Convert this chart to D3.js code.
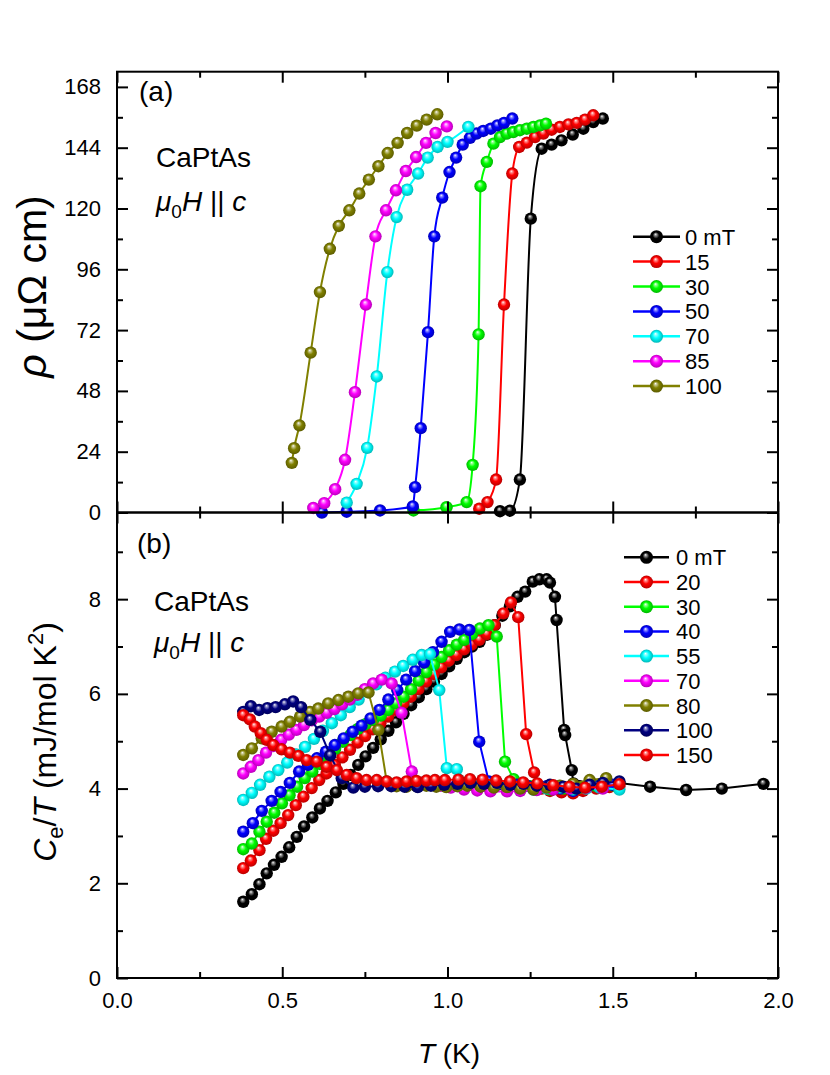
<!DOCTYPE html>
<html><head><meta charset="utf-8">
<script src="https://cdn.jsdelivr.net/npm/d3@7"></script>
<style>
body{margin:0;background:#fff}
svg{display:block}
text{font-family:"Liberation Sans",Arial,sans-serif;fill:#000}
</style>
</head><body>
<svg id="c" width="830" height="1075"></svg>
<script>
// ---------- DATA ----------
// Panel (a): resistivity rho (µΩ cm) vs T (K)
const resFields = ["0 mT","15","30","50","70","85","100"];
const resColors = ["#000000","#ff0000","#00ff00","#0000ff","#00ffff","#ff00ff","#808000"];
const resT_0   = [1.159,1.189,1.219,1.252,1.285,1.315,1.345,1.379,1.411,1.441,1.470];
const resV_0   = [0.5,0.7,13.0,116.0,143.6,145.2,146.9,149.2,151.5,154.1,155.5];
const resT_15  = [1.096,1.121,1.147,1.171,1.196,1.217,1.240,1.265,1.290,1.315,1.340,1.366,1.391,1.416,1.441];
const resV_15  = [1.5,4.1,13.0,82.1,133.8,144.3,146.0,148.2,149.6,151.1,152.2,153.2,153.8,155.1,156.8];
const resT_30  = [0.897,0.997,1.058,1.076,1.094,1.100,1.119,1.139,1.159,1.179,1.199,1.219,1.240,1.260,1.280,1.298];
const resV_30  = [0.8,2.1,4.1,18.8,70.3,128.8,138.4,145.6,148.2,149.6,150.2,150.9,151.5,152.2,152.8,153.5];
const resT_50  = [0.62,0.695,0.796,0.895,0.902,0.919,0.941,0.960,0.984,1.006,1.026,1.046,1.068,1.088,1.108,1.131,1.151,1.171,1.196];
const resV_50  = [0.0,0.3,0.8,2.4,10.0,33.3,71.2,109.0,124.3,134.4,140.1,145.2,147.9,149.6,150.6,151.5,152.8,153.8,155.5];
const resT_70  = [0.695,0.725,0.757,0.786,0.818,0.846,0.878,0.911,0.940,0.970,1.000,1.063];
const resV_70  = [3.9,11.3,25.5,53.7,94.9,116.6,127.4,133.8,140.1,144.3,146.3,152.2];
const resT_85  = [0.594,0.627,0.660,0.690,0.720,0.753,0.782,0.814,0.844,0.874,0.905,0.935,0.964,0.998];
const resV_85  = [1.8,3.7,9.2,20.8,47.5,82.1,109.0,119.3,127.2,134.8,140.3,145.9,149.8,152.4];
const resT_100 = [0.529,0.536,0.552,0.586,0.614,0.644,0.671,0.703,0.733,0.762,0.791,0.819,0.849,0.878,0.907,0.937,0.969];
const resV_100 = [19.6,25.4,34.4,63.1,87.0,104.1,113.1,119.3,125.9,131.4,136.7,141.9,145.9,149.8,152.7,155.1,157.2];

// Panel (b): electronic specific heat Ce/T (mJ/mol K^2) vs T (K)
const heatFields = ["0 mT","20","30","40","55","70","80","100","150"];
const heatColors = ["#000000","#ff0000","#00ff00","#0000ff","#00ffff","#ff00ff","#808000","#000080","#ff0000"];
const heatT_0   = [0.382,0.408,0.431,0.453,0.475,0.498,0.521,0.544,0.566,0.591,0.614,0.637,0.662,0.685,0.707,0.730,0.752,0.775,0.798,0.821,0.844,0.867,0.890,0.913,0.936,0.959,0.982,1.005,1.028,1.051,1.074,1.097,1.120,1.143,1.166,1.189,1.212,1.235,1.258,1.278,1.300,1.310,1.325,1.330,1.353,1.356,1.376,1.381,1.40,1.44,1.48,1.52,1.613,1.722,1.830,1.956];
const heatC_0   = [1.61,1.77,1.98,2.21,2.39,2.56,2.76,2.98,3.20,3.39,3.58,3.74,3.92,4.10,4.29,4.50,4.68,4.86,5.04,5.22,5.40,5.58,5.76,5.93,6.10,6.26,6.42,6.58,6.74,6.88,7.00,7.10,7.25,7.45,7.65,7.85,8.05,8.16,8.37,8.42,8.42,8.35,8.05,7.56,5.24,5.13,4.39,4.11,4.05,4.07,4.10,4.12,4.04,3.97,4.00,4.10];
const heatT_20  = [0.382,0.405,0.431,0.451,0.473,0.495,0.518,0.541,0.564,0.589,0.612,0.634,0.659,0.682,0.705,0.728,0.751,0.774,0.797,0.820,0.843,0.866,0.889,0.912,0.935,0.958,0.981,1.004,1.027,1.050,1.073,1.096,1.119,1.142,1.169,1.192,1.214,1.238,1.262,1.285,1.31,1.345,1.38,1.41,1.45,1.49,1.52];
const heatC_20  = [2.32,2.48,2.70,2.94,3.11,3.27,3.44,3.65,3.83,4.01,4.18,4.32,4.50,4.66,4.82,4.97,5.11,5.25,5.38,5.52,5.66,5.80,5.94,6.10,6.26,6.42,6.56,6.70,6.82,6.94,7.04,7.14,7.26,7.45,7.70,7.93,7.62,5.15,4.34,4.00,3.95,3.92,3.90,3.95,4.00,4.03,4.05];
const heatT_30  = [0.382,0.408,0.431,0.453,0.476,0.499,0.522,0.545,0.568,0.591,0.614,0.637,0.660,0.683,0.706,0.729,0.752,0.775,0.798,0.821,0.844,0.867,0.890,0.913,0.936,0.959,0.982,1.005,1.028,1.051,1.074,1.098,1.124,1.149,1.174,1.20,1.225,1.25,1.28,1.31,1.35,1.40,1.45,1.50];
const heatC_30  = [2.72,2.84,3.09,3.30,3.49,3.69,3.86,4.04,4.22,4.36,4.52,4.68,4.84,4.99,5.13,5.26,5.36,5.45,5.54,5.66,5.80,5.94,6.10,6.28,6.46,6.62,6.78,6.92,7.04,7.14,7.26,7.38,7.45,7.21,4.57,4.20,4.08,4.05,4.02,3.98,4.00,4.02,4.05,4.07];
const heatT_40  = [0.382,0.411,0.438,0.468,0.495,0.523,0.551,0.578,0.605,0.632,0.659,0.686,0.713,0.740,0.767,0.794,0.821,0.848,0.875,0.902,0.929,0.956,0.982,1.008,1.036,1.066,1.096,1.125,1.15,1.18,1.21,1.24,1.27,1.30,1.34,1.38,1.42,1.46,1.50];
const heatC_40  = [3.09,3.27,3.53,3.74,3.93,4.12,4.36,4.50,4.64,4.78,4.92,5.06,5.20,5.33,5.48,5.66,5.88,6.08,6.30,6.48,6.66,6.88,7.10,7.31,7.36,7.35,4.99,4.15,4.08,4.05,4.08,4.06,4.03,4.05,4.00,3.95,4.02,4.06,4.08];
const heatT_55  = [0.382,0.408,0.433,0.461,0.488,0.515,0.542,0.569,0.596,0.623,0.650,0.677,0.704,0.731,0.758,0.785,0.812,0.841,0.866,0.895,0.922,0.947,0.975,0.998,1.028,1.06,1.10,1.14,1.18,1.22,1.26,1.30,1.34,1.38,1.42,1.46,1.52];
const heatC_55  = [3.76,3.91,4.08,4.25,4.39,4.55,4.72,4.88,5.05,5.22,5.38,5.55,5.72,5.88,6.04,6.20,6.34,6.47,6.59,6.72,6.82,6.84,6.08,4.43,4.41,4.12,4.10,4.08,4.06,4.02,3.98,4.00,4.02,3.98,4.00,4.02,3.98];
const heatT_70  = [0.382,0.405,0.428,0.451,0.474,0.497,0.520,0.543,0.566,0.589,0.612,0.635,0.658,0.681,0.704,0.727,0.750,0.775,0.801,0.831,0.861,0.892,0.92,0.95,0.98,1.01,1.05,1.09,1.13,1.18,1.22,1.27,1.32,1.37,1.42,1.47];
const heatC_70  = [4.32,4.46,4.60,4.76,4.90,5.03,5.14,5.24,5.34,5.44,5.52,5.60,5.68,5.78,5.88,5.98,6.10,6.22,6.30,6.22,5.60,4.36,4.12,4.10,4.06,4.02,3.98,3.96,3.94,3.94,3.95,3.97,3.98,4.00,4.02,4.00];
const heatT_80  = [0.382,0.408,0.438,0.468,0.498,0.523,0.554,0.584,0.609,0.639,0.670,0.700,0.730,0.761,0.791,0.816,0.846,0.876,0.906,0.936,0.966,0.996,1.03,1.06,1.10,1.14,1.18,1.22,1.26,1.30,1.34,1.38,1.43,1.48];
const heatC_80  = [4.71,4.85,5.06,5.20,5.31,5.41,5.52,5.62,5.69,5.80,5.87,5.94,6.01,6.03,5.24,4.15,4.05,4.04,4.05,4.06,4.04,4.03,4.05,4.06,4.04,4.02,4.03,4.00,3.98,4.02,4.06,4.10,4.18,4.22];
const heatT_100 = [0.382,0.405,0.430,0.455,0.480,0.508,0.533,0.557,0.585,0.615,0.645,0.68,0.715,0.75,0.79,0.83,0.87,0.91,0.95,0.99,1.03,1.07,1.11,1.15,1.19,1.23,1.27,1.31,1.35,1.39,1.43,1.47,1.52];
const heatC_100 = [5.62,5.74,5.66,5.70,5.72,5.78,5.84,5.72,5.45,5.20,4.70,4.22,4.02,4.04,4.05,4.05,4.04,4.03,4.06,4.08,4.10,4.12,4.10,4.12,4.08,4.10,4.06,4.08,4.04,4.00,4.08,4.12,4.15];
const heatT_150 = [0.382,0.402,0.417,0.435,0.453,0.473,0.498,0.523,0.549,0.574,0.604,0.634,0.665,0.695,0.725,0.755,0.786,0.816,0.846,0.876,0.906,0.936,0.962,0.992,1.033,1.068,1.106,1.147,1.189,1.229,1.272,1.320,1.369,1.416,1.467,1.520];
const heatC_150 = [5.55,5.46,5.31,5.17,5.03,4.92,4.83,4.76,4.69,4.60,4.57,4.46,4.39,4.29,4.22,4.18,4.18,4.15,4.13,4.15,4.16,4.17,4.18,4.18,4.19,4.20,4.19,4.17,4.15,4.13,4.11,4.07,4.04,4.02,4.04,4.09];

// Axis ticks
const xTicks = [0,0.5,1.0,1.5,2.0];
const xTickLabels = ["0.0","0.5","1.0","1.5","2.0"];
const xMinor = [0.25,0.75,1.25,1.75];
const rhoTicks = [0,24,48,72,96,120,144,168];
const rhoMinor = [12,36,60,84,108,132,156];
const cTicks = [0,2,4,6,8];
const cMinor = [1,3,5,7,9];

// ---------- LAYOUT ----------
const X0=117, X1=778, AT=71.7, AB=512.5, BT=512.5, BB=978;
const svg = d3.select("#c");
const x  = d3.scaleLinear().domain([0,2]).range([X0,X1]);
const yA = d3.scaleLinear().domain([0,174]).range([AB,AT]);
const yB = d3.scaleLinear().domain([0,9.83]).range([BB,BT]);

const resSeries = [
  [resT_0,resV_0],[resT_15,resV_15],[resT_30,resV_30],[resT_50,resV_50],
  [resT_70,resV_70],[resT_85,resV_85],[resT_100,resV_100]
].map((s,i)=>({name:resFields[i],color:resColors[i],pts:s[0].map((t,j)=>[t,s[1][j]])}));
const heatSeries = [
  [heatT_0,heatC_0],[heatT_20,heatC_20],[heatT_30,heatC_30],[heatT_40,heatC_40],[heatT_55,heatC_55],
  [heatT_70,heatC_70],[heatT_80,heatC_80],[heatT_100,heatC_100],[heatT_150,heatC_150]
].map((s,i)=>({name:heatFields[i],color:heatColors[i],pts:s[0].map((t,j)=>[t,s[1][j]])}));

// gradients for ball markers
const defs = svg.append("defs");
const gradIds = {};
function gradFor(color){
  if(gradIds[color]) return gradIds[color];
  const id = "g"+color.replace("#","");
  const g = defs.append("radialGradient").attr("id",id)
    .attr("cx","50%").attr("cy","50%").attr("r","50%").attr("fx","42%").attr("fy","30%");
  const light = d3.interpolateRgb(color,"#ffffff")(0.6);
  const dark = d3.rgb(color).darker(0.9).formatHex();
  g.append("stop").attr("offset","0%").attr("stop-color","#ffffff");
  g.append("stop").attr("offset","16%").attr("stop-color",light);
  g.append("stop").attr("offset","50%").attr("stop-color",color);
  g.append("stop").attr("offset","100%").attr("stop-color",dark);
  gradIds[color] = "url(#"+id+")";
  return gradIds[color];
}

// ---------- AXES ----------
function frameAxes(yScale, yMajor, yMinor, top, bottom, showX){
  const g = svg.append("g");
  const TL=11, TS=6;
  g.append("g").attr("transform",`translate(0,${bottom})`)
    .call(d3.axisBottom(x).tickValues(xTicks).tickSize(-TL).tickPadding(14)
      .tickFormat((d,i)=> showX ? xTickLabels[i] : ""));
  g.append("g").attr("transform",`translate(0,${bottom})`)
    .call(d3.axisBottom(x).tickValues(xMinor).tickSize(-TS).tickFormat(""));
  g.append("g").attr("transform",`translate(0,${top})`)
    .call(d3.axisTop(x).tickValues(xTicks).tickSize(-TL).tickFormat(""));
  g.append("g").attr("transform",`translate(0,${top})`)
    .call(d3.axisTop(x).tickValues(xMinor).tickSize(-TS).tickFormat(""));
  g.append("g").attr("transform",`translate(${X0},0)`)
    .call(d3.axisLeft(yScale).tickValues(yMajor).tickSize(-TL).tickPadding(16).tickFormat(d3.format("d")));
  g.append("g").attr("transform",`translate(${X0},0)`)
    .call(d3.axisLeft(yScale).tickValues(yMinor).tickSize(-TS).tickFormat(""));
  g.append("g").attr("transform",`translate(${X1},0)`)
    .call(d3.axisRight(yScale).tickValues(yMajor).tickSize(-TL).tickFormat(""));
  g.append("g").attr("transform",`translate(${X1},0)`)
    .call(d3.axisRight(yScale).tickValues(yMinor).tickSize(-TS).tickFormat(""));
  g.selectAll(".domain").remove();
  g.selectAll(".tick line").attr("stroke","#000").attr("stroke-width",2);
  g.selectAll(".tick text").attr("font-size",22).attr("fill","#000")
    .attr("font-family",'"Liberation Sans",Arial,sans-serif');
  svg.append("rect").attr("x",X0).attr("y",top).attr("width",X1-X0).attr("height",bottom-top)
    .attr("fill","none").attr("stroke","#000").attr("stroke-width",2);
}

// ---------- SERIES ----------
function drawSeries(series, yScale, curve, r){
  const g = svg.append("g");
  series.forEach(s=>{
    const line = d3.line().x(d=>x(d[0])).y(d=>yScale(d[1])).curve(curve);
    const sg = g.append("g");
    sg.append("path").attr("d",line(s.pts)).attr("fill","none")
      .attr("stroke",s.color).attr("stroke-width",2);
    sg.selectAll("circle").data(s.pts).join("circle")
      .attr("cx",d=>x(d[0])).attr("cy",d=>yScale(d[1])).attr("r",r)
      .attr("fill",gradFor(s.color));
  });
}

function legend(series, lx1, lx2, tx, y0, dy){
  const g = svg.append("g");
  series.forEach((s,i)=>{
    const yy = y0 + i*dy;
    g.append("line").attr("x1",lx1).attr("x2",lx2).attr("y1",yy).attr("y2",yy)
      .attr("stroke",s.color).attr("stroke-width",2.5);
    g.append("circle").attr("cx",(lx1+lx2)/2).attr("cy",yy).attr("r",6.5).attr("fill",gradFor(s.color));
    g.append("text").attr("x",tx).attr("y",yy+8).attr("font-size",22).text(s.name);
  });
}

function annot(x0, yTitle, yField, label, yLabel){
  svg.append("text").attr("x",x0-17).attr("y",yLabel).attr("font-size",28).text(label);
  svg.append("text").attr("x",x0).attr("y",yTitle).attr("font-size",28).text("CaPtAs");
  const t = svg.append("text").attr("x",x0).attr("y",yField).attr("font-size",28);
  t.append("tspan").attr("font-style","italic").text("\u03bc");
  t.append("tspan").attr("font-size",19).attr("dy",7).text("0");
  t.append("tspan").attr("dy",-7).attr("font-style","italic").text("H");
  t.append("tspan").text(" || ");
  t.append("tspan").attr("font-style","italic").text("c");
}

// panel a
drawSeries(resSeries, yA, d3.curveMonotoneX, 6.2);
frameAxes(yA, rhoTicks, rhoMinor, AT, AB, false);
legend(resSeries, 633, 680, 685, 236.7, 24.9);
annot(156, 167, 211, "(a)", 101);

// panel b
drawSeries(heatSeries, yB, d3.curveLinear, 6.2);
frameAxes(yB, cTicks, cMinor, BT, BB, true);
legend(heatSeries, 624, 669, 676, 557.3, 24.7);
annot(154, 611, 652, "(b)", 553);

// axis titles
const ya = svg.append("text").attr("transform","translate(46,286.5) rotate(-90)")
  .attr("text-anchor","middle").attr("font-size",41);
ya.append("tspan").attr("font-style","italic").text("\u03c1");
ya.append("tspan").text(" (\u03bc\u03a9 cm)");

const yb = svg.append("text").attr("transform","translate(56,742) rotate(-90)")
  .attr("text-anchor","middle").attr("font-size",32);
yb.append("tspan").attr("font-style","italic").text("C");
yb.append("tspan").attr("font-size",22).attr("dy",7).text("e");
yb.append("tspan").attr("dy",-7).text("/");
yb.append("tspan").attr("font-style","italic").text("T");
yb.append("tspan").text(" (mJ/mol K");
yb.append("tspan").attr("font-size",22).attr("dy",-13).text("2");
yb.append("tspan").attr("dy",13).text(")");

const xl = svg.append("text").attr("x",449).attr("y",1063).attr("text-anchor","middle").attr("font-size",28);
xl.append("tspan").attr("font-style","italic").text("T");
xl.append("tspan").text(" (K)");
</script>
</body></html>
